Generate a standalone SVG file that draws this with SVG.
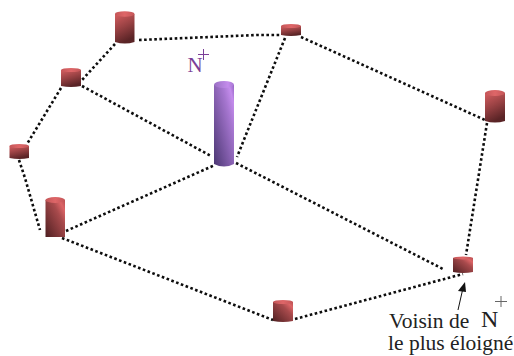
<svg xmlns="http://www.w3.org/2000/svg" width="514" height="356" viewBox="0 0 514 356">
<style>
.d{fill:none;stroke:#0d0d0d;stroke-width:2.6;stroke-dasharray:2.6 2.5}
.r{fill:url(#red)}
.r2{fill:url(#red2)}
.c{fill:url(#redTop)}
.p{fill:url(#pur)}
.pc{fill:url(#purTop)}
text{font-family:"Liberation Serif","Times New Roman",serif}
.t{font-size:21.500px;fill:#222}
</style>
<defs>
<linearGradient id="red" x1="0" x2=".35" y1="0" y2="1"><stop offset="0" stop-color="#d45e60"/><stop offset=".5" stop-color="#9a4244"/><stop offset="1" stop-color="#5a2426"/></linearGradient>
<linearGradient id="red2" x1="0" x2="1" y1="1" y2="0"><stop offset="0" stop-color="#4e1f21"/><stop offset=".65" stop-color="#a84a4c"/><stop offset=".85" stop-color="#dc6466"/><stop offset="1" stop-color="#b85052"/></linearGradient>
<linearGradient id="redTop" x1="0" x2="1"><stop offset="0" stop-color="#c45658"/><stop offset=".5" stop-color="#de6668"/><stop offset="1" stop-color="#c45658"/></linearGradient>
<linearGradient id="pur" x1="0" x2="1" y1="1" y2="0"><stop offset="0" stop-color="#4a3672"/><stop offset=".7" stop-color="#a676d0"/><stop offset=".88" stop-color="#c48cec"/><stop offset="1" stop-color="#9464c4"/></linearGradient>
<linearGradient id="purTop" x1="0" x2="1"><stop offset="0" stop-color="#9a70c4"/><stop offset=".7" stop-color="#c48cec"/><stop offset="1" stop-color="#a878d4"/></linearGradient>
</defs>
<g id="connectors">
<path class="d" d="M139 40L257 35L281 35"/>
<path class="d" d="M115 44L82 80"/>
<path class="d" d="M82 86L211 156"/>
<path class="d" d="M61 88L27 144"/>
<path class="d" d="M19 160L25 178L40 230"/>
<path class="d" d="M66 231L215 165"/>
<path class="d" d="M62 238L273 320"/>
<path class="d" d="M285 38L237 157"/>
<path class="d" d="M301 37L485 120"/>
<path class="d" d="M487 123L466 255"/>
<path class="d" d="M236 163L443 269"/>
<path class="d" d="M295 319L463 274"/>
</g>
<g id="n1"><path class="r" d="M115 14v28q10 3 19.500 0v-28z"/><ellipse class="c" cx="124.700" cy="14" rx="9.800" ry="2.700"/></g>
<g id="n2"><path class="r" d="M61 70v16q10 2 20 0v-16z"/><ellipse class="c" cx="71" cy="70" rx="10" ry="2"/></g>
<g id="n3"><path class="r" d="M9.500 146v12q10 2 19.500 0v-12z"/><ellipse class="c" cx="19.200" cy="146" rx="9.800" ry="2"/></g>
<g id="n4"><path class="r2" d="M45.500 200v37h19.500v-37z"/><ellipse class="c" cx="55.200" cy="200" rx="9.800" ry="3"/></g>
<g id="center"><path class="p" d="M214 85v79q10 5 20 0v-79z"/><ellipse class="pc" cx="224" cy="84.500" rx="10" ry="3.500"/></g>
<g id="n5"><path class="r" d="M281 26v9q10 2 20 0v-9z"/><ellipse class="c" cx="291" cy="26" rx="10" ry="2"/></g>
<g id="n6"><path class="r" d="M485 93v28q10 3 20 0v-28z"/><ellipse class="c" cx="495" cy="93" rx="10" ry="3"/></g>
<g id="n7"><path class="r2" d="M453 258v14q10 2 20 0v-14z"/><ellipse class="c" cx="463" cy="258" rx="10" ry="1.500"/></g>
<g id="n8"><path class="r2" d="M273 302v19q10 2 20 0v-19z"/><ellipse class="c" cx="283" cy="302" rx="10" ry="2"/></g>
<g id="labels">
<text x="187.500" y="72" font-size="21" fill="#7b3f98">N</text>
<path d="M203.500 49v11M198 54.500h11" stroke="#7b3f98" stroke-width="1" fill="none"/>
<path d="M458 310L463 288" stroke="#111" stroke-width="1" fill="none"/>
<path d="M465 282L458 291L466 292z" fill="#111"/>
<text class="t" x="389" y="328">Voisin de</text>
<text x="481" y="327" font-size="24" fill="#222">N</text>
<path d="M501 296v11M495 301.500h12" stroke="#666" stroke-width="1" fill="none"/>
<text class="t" x="388" y="350">le plus éloigné</text>
</g>
</svg>
